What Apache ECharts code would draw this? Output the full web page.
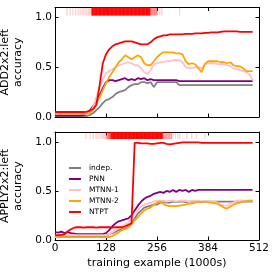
<!DOCTYPE html>
<html><head><meta charset="utf-8">
<script src="https://cdn.jsdelivr.net/npm/echarts@6/dist/echarts.min.js"></script>
<style>html,body{margin:0;padding:0;background:#fff}#c{width:277px;height:277px}</style>
</head><body><div id="c"></div>
<script>
// training example (1000s)
const xs = [0,8,16,24,32,40,48,56,64,72,80,88,96,104,112,120,128,136,144,152,160,168,176,184,192,200,208,216,224,232,240,248,256,264,272,280,288,296,304,312,320,328,336,344,352,360,368,376,384,392,400,408,416,424,432,440,448,456,464,472,480,488,496];
const seriesNames = ['indep.','PNN','MTNN-1','MTNN-2','NTPT'];
const xTicks = [0,128,256,384,512];
const yTicks = [0,0.5,1.0];

// ADD2x2:left
const addIndep = [0.01,0.01,0.01,0.01,0.01,0.01,0.01,0.01,0.01,0.01,0.01,
 0.02,0.04,0.07,0.10,0.14,0.17,0.18,0.20,0.23,0.25,0.26,0.27,0.30,0.32,0.33,0.33,0.35,0.35,0.34,0.35,0.30,0.35,0.35,0.35,0.35,0.35,0.35,0.35,0.32,
 0.32,0.32,0.32,0.32,0.32,0.32,0.32,0.32,0.32,0.32,0.32,0.32,0.32,0.32,0.32,0.32,0.32,0.32,0.32,0.32,0.32,0.32,0.32];
const addPNN = [0.015,0.015,0.015,0.015,0.015,0.015,0.015,0.015,0.015,
 0.02,0.04,0.07,0.11,0.15,0.22,0.29,0.35,0.37,0.37,0.36,0.37,0.38,0.39,0.37,0.38,0.37,0.39,0.38,0.39,0.37,0.38,0.37,0.37,0.37,0.37,0.37,0.37,0.37,0.37,
 0.36,0.36,0.36,0.36,0.36,0.36,0.36,0.36,0.36,0.36,0.36,0.36,0.36,0.36,0.36,0.36,0.36,0.36,0.36,0.36,0.36,0.36,0.36,0.36];
const addMTNN1 = [0.035,0.035,0.035,0.035,0.035,0.035,0.035,0.035,0.035,0.035,0.035,
 0.05,0.10,0.20,0.30,0.38,0.44,0.46,0.48,0.50,0.52,0.53,0.54,0.55,0.54,0.52,0.52,0.49,0.45,0.43,0.47,0.53,0.54,0.55,0.55,0.56,0.56,0.57,0.57,0.57,
 0.55,0.50,0.49,0.49,0.50,0.50,0.49,0.53,0.54,0.54,0.54,0.53,0.53,0.53,0.52,0.51,0.49,0.48,0.47,0.46,0.45,0.43,0.37];
const addMTNN2 = [0.035,0.035,0.035,0.035,0.035,0.035,0.035,0.035,0.035,0.035,0.035,0.035,
 0.08,0.14,0.20,0.27,0.34,0.40,0.45,0.50,0.55,0.58,0.62,0.60,0.58,0.60,0.62,0.60,0.54,0.52,0.52,0.56,0.60,0.63,0.65,0.65,0.65,0.65,0.64,0.64,
 0.63,0.56,0.53,0.54,0.53,0.49,0.45,0.53,0.56,0.56,0.56,0.56,0.55,0.55,0.54,0.55,0.52,0.51,0.51,0.49,0.46,0.46,0.46];
const addNTPT = [0.05,0.05,0.05,0.05,0.05,0.05,0.05,0.05,0.05,0.05,
 0.055,0.065,0.08,0.12,0.32,0.54,0.63,0.68,0.71,0.73,0.74,0.75,0.76,0.76,0.76,0.75,0.74,0.73,0.73,0.73,0.75,0.78,0.80,0.81,0.82,0.82,0.83,0.83,0.83,0.83,
 0.83,0.835,0.835,0.835,0.84,0.84,0.84,0.845,0.845,0.85,0.85,0.85,0.855,0.86,0.86,0.86,0.86,0.86,0.855,0.855,0.855,0.855,0.855];

// APPLY2x2:left
const applyIndep = [0.04,0.04,0.04,0.04,0.04,0.04,0.04,0.04,0.04,0.04,0.04,0.04,0.04,0.04,0.04,0.04,0.04,
 0.06,0.07,0.085,0.10,0.11,0.12,0.14,0.17,0.22,0.27,0.30,0.33,0.34,0.35,0.36,0.36,0.38,0.39,0.38,0.38,0.39,
 0.385,0.39,0.39,0.385,0.39,0.39,0.39,0.39,0.385,0.39,0.39,0.39,0.39,0.39,0.39,0.39,0.39,0.39,0.39,0.39,0.39,0.39,0.39,0.39,0.39];
const applyPNN = [0.08,0.075,0.085,0.07,0.08,0.07,0.065,
 0.06,0.06,0.06,0.06,0.06,0.06,0.06,0.06,0.06,
 0.07,0.10,0.14,0.17,0.19,0.20,0.21,0.22,0.25,0.30,0.35,0.39,0.42,0.44,0.45,0.47,0.48,0.49,0.48,0.50,0.49,0.51,0.49,0.51,0.50,0.51,0.49,0.51,0.50,
 0.51,0.51,0.51,0.51,0.51,0.51,0.51,0.51,0.51,0.51,0.51,0.51,0.51,0.51,0.51,0.51,0.51,0.51];
const applyMTNN1 = [0.05,0.05,0.05,0.05,0.05,0.05,0.05,0.05,0.05,0.05,0.05,0.05,0.05,0.05,0.05,0.05,0.05,
 0.06,0.08,0.10,0.12,0.14,0.16,0.18,0.22,0.27,0.31,0.34,0.36,0.37,0.38,0.39,0.40,0.40,0.40,0.39,0.40,0.40,0.39,0.40,0.40,0.40,0.39,0.40,0.40,0.40,
 0.39,0.39,0.39,0.39,0.39,0.38,0.36,0.35,0.35,0.37,0.38,0.40,0.40,0.40,0.40,0.40,0.40];
const applyMTNN2 = [0.03,0.03,0.03,0.03,0.03,0.03,0.03,0.03,0.03,0.03,0.03,0.03,0.03,0.03,0.03,0.03,0.03,0.03,
 0.04,0.06,0.08,0.10,0.11,0.13,0.16,0.20,0.23,0.27,0.30,0.32,0.33,0.36,0.38,0.39,0.37,0.35,0.345,0.345,0.345,0.35,0.355,0.36,0.37,0.37,0.38,
 0.385,0.39,0.39,0.385,0.38,0.375,0.37,0.35,0.33,0.32,0.34,0.36,0.37,0.38,0.39,0.395,0.40,0.40];
const applyNTPT = [0.05,0.05,0.05,0.06,0.09,0.11,0.125,
 0.13,0.13,0.125,0.13,0.13,0.13,0.125,0.13,0.13,0.13,0.13,0.125,0.13,0.13,0.13,
 0.14,0.155,0.17,
 0.99,0.99,0.985,0.985,0.985,0.98,0.98,0.985,0.99,0.99,0.98,0.975,0.98,0.985,0.99,0.995,0.995,0.995,0.995,0.995,0.995,0.99,
 0.99,0.99,0.99,0.99,0.99,0.99,0.99,0.99,0.99,0.99,0.99,0.99,0.99,0.99,0.99,0.99];

// rug marks along the top of each panel (1000s of examples)
const addRugSparse = [30,38,45,52,58,63,68,72,76,80,84,87,90,258,263,268,313];
const addRugMid = [92,94,240,243,246,249,252,255];
const addRugDense = [94,96,98,100,102,104,106,108,110,112,114,116,118,120,122,124,126,128,130,132,134,136,138,140,142,144,146,148,150,152,154,156,158,160,162,164,166,168,170,172,174,176,178,180,182,184,186,188,190,192,194,196,198,200,202,204,206,208,210,212,214,216,218,220,222,224,226,228,230,232,234,236,238];
const applyRugSparse = [78,88,96,103,108,113,117,121,124,127,296,302,308,313,331,343,355,376];
const applyRugMid = [130,133,135,137,139,272,276,280,284,288,292];
const applyRugDense = [141,143,145,147,149,151,153,155,157,159,161,163,165,167,169,171,173,175,177,179,181,183,185,187,189,191,193,195,197,199,201,203,205,207,209,211,213,215,217,219,221,223,225,227,229,231,233,235,237,239,241,243,245,247,249,251,253,255,257,259,261,263,265,267,269];

const colors = ['#808080','#800080','#ffc0cb','#ffa500','#ff0000'];
const FONT = 'DejaVu Sans';
const zip = v => xs.map((x,i)=>[x,v[i]]);

function xAx(grid, pos, labels, name){
  return {type:'value', gridIndex:grid, position:pos, min:0, max:512, interval:128,
    axisLine:{show:true, onZero:false, lineStyle:{color:'#000', width:1}},
    axisTick:{show:true, inside:true, length:3.5, customValues:xTicks, lineStyle:{color:'#000'}},
    axisLabel:{show:labels, customValues:xTicks, margin:3, fontSize:10.5, fontFamily:FONT, color:'#000', lineHeight:11,
      alignMinLabel:'center', alignMaxLabel:'center', hideOverlap:false},
    splitLine:{show:false},
    name: name||'', nameLocation:'middle', nameGap:17,
    nameTextStyle:{fontSize:11, fontFamily:FONT, color:'#000', lineHeight:13}};
}
function yAx(grid, pos, labels, name){
  return {type:'value', gridIndex:grid, position:pos, min:0, max:1.1,
    axisLine:{show:true, onZero:false, lineStyle:{color:'#000', width:1}},
    axisTick:{show:true, inside:true, length:3.5, customValues:yTicks, lineStyle:{color:'#000'}},
    axisLabel:{show:labels, customValues:yTicks, margin:3, fontSize:10.5, fontFamily:FONT, color:'#000', formatter:v=>v.toFixed(1)},
    splitLine:{show:false},
    name: name||'', nameLocation:'middle', nameGap:21.5,
    nameTextStyle:{fontSize:11, fontFamily:FONT, color:'#000', lineHeight:13}};
}

const series = [];
function rug(arr, xi, yi, h, op){
  series.push({type:'scatter', xAxisIndex:xi, yAxisIndex:yi, silent:true, z:1,
    data:arr.map(v=>[v, 1.1]), symbol:'rect', symbolSize:[1.3,h], symbolOffset:[0,h/2],
    itemStyle:{color:'#ff0000', opacity:op}, clip:false});
}
rug(addRugSparse,0,0,8,0.18); rug(addRugMid,0,0,8,0.45); rug(addRugDense,0,0,8,0.95);
rug(applyRugSparse,2,2,7,0.18); rug(applyRugMid,2,2,7,0.45); rug(applyRugDense,2,2,7,0.95);

const addData = [addIndep, addPNN, addMTNN1, addMTNN2, addNTPT];
const applyData = [applyIndep, applyPNN, applyMTNN1, applyMTNN2, applyNTPT];
[[addData,0],[applyData,2]].forEach(([set,ai])=>{
  set.forEach((v,k)=>{
    series.push({type:'line', name:seriesNames[k], xAxisIndex:ai, yAxisIndex:ai,
      data:zip(v), showSymbol:false, symbol:'none', z:2+k,
      lineStyle:{color:colors[k], width:1.8}, itemStyle:{color:colors[k]}});
  });
});

const chart = echarts.init(document.getElementById('c'), null, {renderer:'canvas'});
chart.setOption({
  animation:false,
  backgroundColor:'#fff',
  textStyle:{fontFamily:FONT},
  grid:[{left:55, top:7.5, width:204, height:109.5, containLabel:false, outerBoundsMode:'none'},
        {left:55, top:132, width:204, height:108, containLabel:false, outerBoundsMode:'none'}],
  xAxis:[xAx(0,'bottom',false), xAx(0,'top',false), xAx(1,'bottom',true,'training example (1000s)'), xAx(1,'top',false)],
  yAxis:[yAx(0,'left',true,'ADD2x2:left\naccuracy'), yAx(0,'right',false), yAx(1,'left',true,'APPLY2x2:left\naccuracy'), yAx(1,'right',false)],
  legend:{data:seriesNames, orient:'vertical', left:64, top:158.5, icon:'rect', itemWidth:12, itemHeight:2, itemGap:2,
    textStyle:{fontSize:7.5, fontFamily:FONT, color:'#000', lineHeight:9, padding:[0,0,0,3]}},
  series:series
});
</script></body></html>
